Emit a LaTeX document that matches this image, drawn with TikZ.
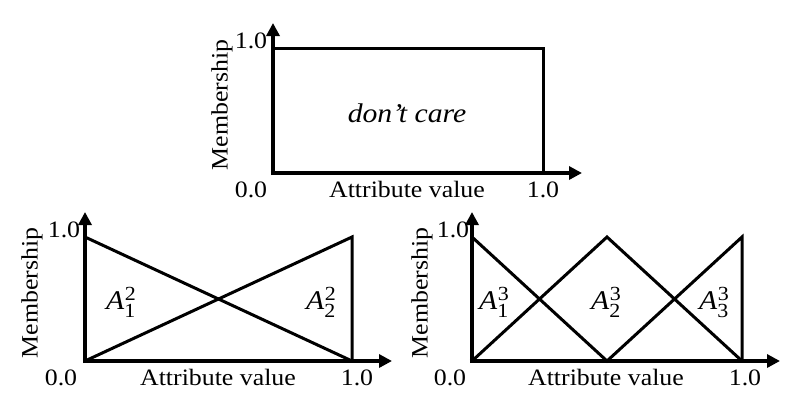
\documentclass[tikz,border=0pt]{standalone}
\usepackage{fontspec}
\setmainfont[FakeStretch=1.1]{Liberation Serif}
\usetikzlibrary{arrows.meta}
\newcommand{\Amf}[2]{\textit{A}\rlap{\kern0.5pt\raisebox{9pt}{\fontsize{20}{20}\selectfont #2}}\raisebox{-8pt}{\fontsize{20}{20}\selectfont #1}}
\begin{document}
\begin{tikzpicture}[x=1pt,y=-1pt,
  axis/.style={line width=4.2pt,-{Triangle[length=13pt,width=13pt]}},
  mf/.style={line width=3pt,line join=miter,line cap=butt},
  lab/.style={font=\fontsize{23.5}{23.5}\selectfont,inner sep=0pt,anchor=base},
  ylab/.style={font=\fontsize{23.5}{23.5}\selectfont,inner sep=0pt,rotate=90},
  mfl/.style={font=\fontsize{27}{27}\selectfont,inner sep=0pt,anchor=base west}]
\useasboundingbox (0,0) rectangle (788,407);

% ---------- top panel: don't care ----------
\coordinate (tO) at (273,173);
\coordinate (tY) at (273,23);
\coordinate (tX) at (582,173);
\coordinate (tTL) at (273,48);
\coordinate (tTR) at (543,48);
\coordinate (tBR) at (543,173);
\draw[mf] (tTL) -- (tTR) -- (tBR);
\draw[axis] ([yshift=-2.1pt]tO) -- (tY);
\draw[axis] ([xshift=-2.1pt]tO) -- (tX);
\node[lab] (t10y) at (251,48) {1.0};
\node[lab] (t00) at (251,197) {0.0};
\node[lab] (tatt) at (407,197) {Attribute value};
\node[lab] (t10x) at (543,197) {1.0};
\node[ylab] (tmem) at (222,105) {Membership};
\node[font=\fontsize{27}{27}\selectfont\itshape,inner sep=0pt,anchor=base] (dc) at (407,122) {don\char"0027 t care};

% ---------- bottom left: two fuzzy sets ----------
\coordinate (lO) at (85,361);
\coordinate (lY) at (85,212);
\coordinate (lX) at (392,361);
\coordinate (lTL) at (85,237);
\coordinate (lTR) at (352,237);
\coordinate (lBR) at (352,361);
\draw[mf] (lTL) -- (lBR);
\draw[mf] (lO) -- (lTR) -- (lBR);
\draw[axis] ([yshift=-2.1pt]lO) -- (lY);
\draw[axis] ([xshift=-2.1pt]lO) -- (lX);
\node[lab] (l10y) at (64,237) {1.0};
\node[lab] (l00) at (61,385) {0.0};
\node[lab] (latt) at (218,385) {Attribute value};
\node[lab] (l10x) at (357,385) {1.0};
\node[ylab] (lmem) at (32,293) {Membership};
\node[mfl] (a12) at (106,309) {\Amf{1}{2}};
\node[mfl] (a22) at (306,309) {\Amf{2}{2}};

% ---------- bottom right: three fuzzy sets ----------
\coordinate (rO) at (472,361);
\coordinate (rY) at (472,212);
\coordinate (rX) at (780,361);
\coordinate (rTL) at (472,237);
\coordinate (rTM) at (607,237);
\coordinate (rBM) at (607,361);
\coordinate (rTR) at (742,237);
\coordinate (rBR) at (742,361);
\draw[mf] (rTL) -- (rBM) -- (rTR) -- (rBR);
\draw[mf] (rO) -- (rTM) -- (rBR);
\draw[axis] ([yshift=-2.1pt]rO) -- (rY);
\draw[axis] ([xshift=-2.1pt]rO) -- (rX);
\node[lab] (r10y) at (453,237) {1.0};
\node[lab] (r00) at (450,385) {0.0};
\node[lab] (ratt) at (606,385) {Attribute value};
\node[lab] (r10x) at (745,385) {1.0};
\node[ylab] (rmem) at (422,293) {Membership};
\node[mfl] (a13) at (479,309) {\Amf{1}{3}};
\node[mfl] (a23) at (591,309) {\Amf{2}{3}};
\node[mfl] (a33) at (699,309) {\Amf{3}{3}};
\end{tikzpicture}
\end{document}
